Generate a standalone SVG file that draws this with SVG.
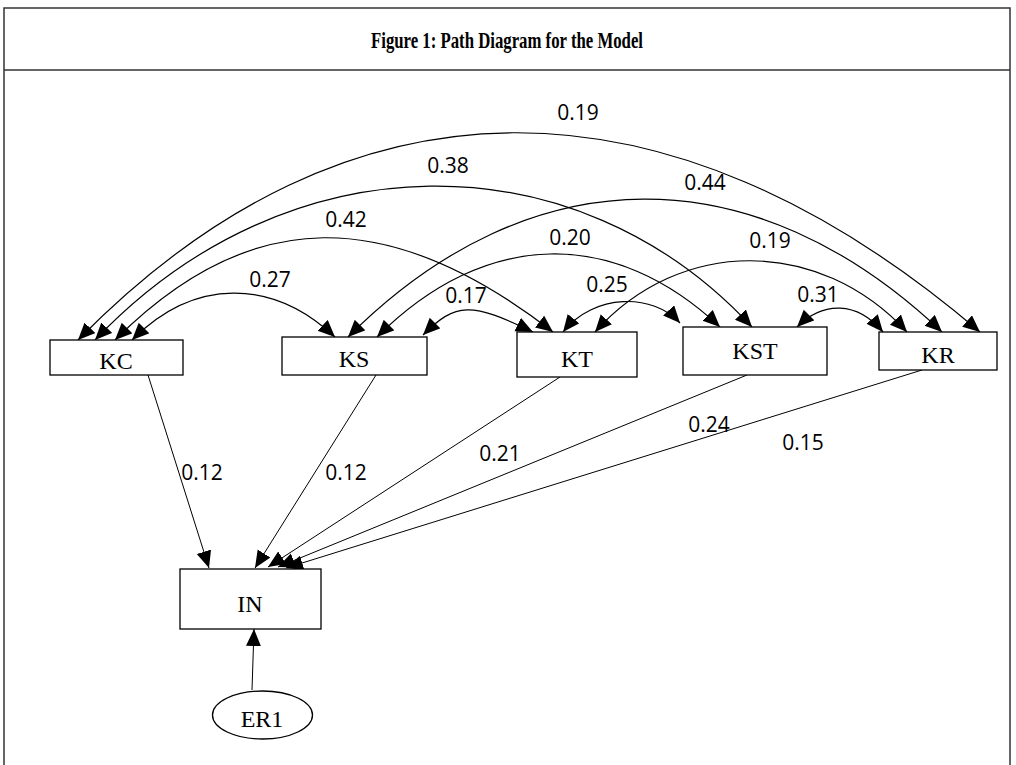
<svg xmlns="http://www.w3.org/2000/svg" width="1016" height="765" viewBox="0 0 1016 765">
<style>
.frame{fill:none;stroke:#333;stroke-width:1.5}
.node{fill:#fff;stroke:#000;stroke-width:1.3}
.nl{font-family:"Liberation Serif",serif;font-size:24px;text-anchor:middle;fill:#000}
.el{font-family:"Open Sans",sans-serif;font-size:21px;text-anchor:middle;fill:#000}
.arc{fill:none;stroke:#000;stroke-width:1.2;marker-start:url(#ah);marker-end:url(#ah)}
.ln{fill:none;stroke:#000;stroke-width:1;marker-end:url(#ah)}
.title{font-family:"Liberation Serif",serif;font-weight:bold;font-size:24px;text-anchor:middle;fill:#000}
</style>
<defs>
<marker id="ah" markerUnits="userSpaceOnUse" markerWidth="19" markerHeight="16" refX="17" refY="7.5" orient="auto-start-reverse" viewBox="0 0 19 16">
<path d="M0,0 L17,7.5 L0,15 Z" fill="#000"/>
</marker>
</defs>
<rect width="1016" height="765" fill="#fff"/>
<g id="frame">
<path class="frame" d="M4,765 V8 H1010 V765"/>
<line class="frame" x1="4" y1="70" x2="1010" y2="70"/>
<text class="title" x="507" y="48" textLength="272" lengthAdjust="spacingAndGlyphs">Figure 1: Path Diagram for the Model</text>
</g>
<g id="connectors">
<path class="arc" d="M78,340 C348,65 667,65 980,332"/>
<path class="arc" d="M95,340 C288,137 576,137 752,327"/>
<path class="arc" d="M348,337 C531,154 754,154 942,332"/>
<path class="arc" d="M115,340 C250,205 389,205 553,332"/>
<path class="arc" d="M377,337 C486,228 615,228 720,327"/>
<path class="arc" d="M595,332 C680,237 819,237 907,332"/>
<path class="arc" d="M132,340 C194,278 272,278 335,337"/>
<path class="arc" d="M423,335 C456,302 471,302 533,332"/>
<path class="arc" d="M563,332 C594,293 653,293 680,323"/>
<path class="arc" d="M797,327 C823,301 857,301 883,332"/>
<line class="ln" x1="148" y1="375" x2="209" y2="568"/>
<line class="ln" x1="376" y1="375" x2="255" y2="568"/>
<line class="ln" x1="560" y1="377" x2="268" y2="567"/>
<line class="ln" x1="747" y1="375" x2="278" y2="567"/>
<line class="ln" x1="922" y1="370" x2="286" y2="568"/>
<line class="ln" x1="252" y1="690" x2="254" y2="629"/>
<text class="el" x="578" y="120">0.19</text>
<text class="el" x="448" y="173">0.38</text>
<text class="el" x="705" y="190">0.44</text>
<text class="el" x="346" y="227">0.42</text>
<text class="el" x="570" y="245">0.20</text>
<text class="el" x="770" y="248">0.19</text>
<text class="el" x="270" y="287">0.27</text>
<text class="el" x="466" y="303">0.17</text>
<text class="el" x="607" y="292">0.25</text>
<text class="el" x="818" y="302">0.31</text>
<text class="el" x="202" y="480">0.12</text>
<text class="el" x="346" y="480">0.12</text>
<text class="el" x="500" y="461">0.21</text>
<text class="el" x="709" y="432">0.24</text>
<text class="el" x="803" y="450">0.15</text>
</g>
<g id="KC"><rect class="node" x="50" y="340" width="133" height="35"/><text class="nl" x="116" y="369">KC</text></g>
<g id="KS"><rect class="node" x="282" y="337" width="145" height="38"/><text class="nl" x="354" y="367">KS</text></g>
<g id="KT"><rect class="node" x="517" y="332" width="120" height="45"/><text class="nl" x="577" y="367">KT</text></g>
<g id="KST"><rect class="node" x="683" y="327" width="144" height="48"/><text class="nl" x="755" y="359">KST</text></g>
<g id="KR"><rect class="node" x="879" y="332" width="118" height="38"/><text class="nl" x="938" y="363">KR</text></g>
<g id="IN"><rect class="node" x="180" y="569" width="141" height="60"/><text class="nl" x="250" y="612">IN</text></g>
<g id="ER1"><ellipse class="node" cx="262.5" cy="715" rx="50" ry="24"/><text class="nl" x="262" y="727">ER1</text></g>
</svg>
